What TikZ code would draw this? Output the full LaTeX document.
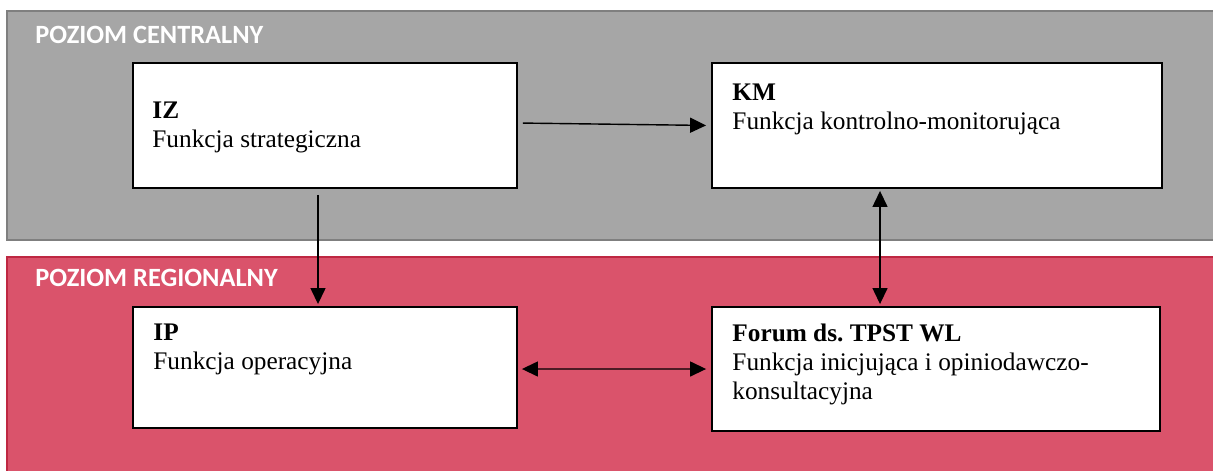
\documentclass[tikz,border=0pt]{standalone}
\usepackage{fontspec}
\setmainfont{Liberation Serif}
\newfontfamily\naglowek{Carlito}
\usetikzlibrary{arrows.meta}
\frenchspacing

\definecolor{szary}{RGB}{166,166,166}
\definecolor{szaryram}{RGB}{127,127,127}
\definecolor{czerwony}{RGB}{218,83,107}
\definecolor{czerwonyram}{RGB}{190,40,66}

\tikzset{ramka/.style = {draw, fill=white, line width=1.1pt, inner sep=0pt},
         opis/.style = {anchor=north west, align=left, inner sep=0pt,
                        font=\fontsize{14.4}{16.5}\selectfont},
         poziom/.style = {anchor=base west, inner sep=0pt, text=white,
                          font=\naglowek\bfseries\fontsize{15}{17}\selectfont},
         strzalka/.style = {line width=0.8pt, -{Triangle[length=0.32cm, width=0.3cm]}},
         strzalka2/.style = {line width=0.8pt, {Triangle[length=0.32cm, width=0.3cm]}-{Triangle[length=0.32cm, width=0.3cm]}}
        }

\begin{document}
\begin{tikzpicture}[x=0.02cm, y=-0.02cm]
\useasboundingbox (0,0) rectangle (1213,471);
% pasy poziomow
\fill[szary] (7,11) rectangle (1213,240);
\draw[szaryram, line width=1.2pt] (1213,11) -- (7,11) -- (7,240) -- (1213,240);
\fill[czerwony] (7,257) rectangle (1213,471);
\draw[czerwonyram, line width=1.2pt] (1213,257) -- (7,257) -- (7,471);
\node[poziom] (centralny) at (35,43) {POZIOM CENTRALNY};
\node[poziom] (regionalny) at (35,286) {POZIOM REGIONALNY};
% ramki
\foreach \n/\x/\y/\w/\h in {iz/325/125.5/7.68/2.5, km/937/125.5/9/2.5, ip/325/367.5/7.68/2.42, forum/936/369/8.96/2.48}
   \node[ramka, minimum width=\w cm, minimum height=\h cm] (\n) at (\x,\y) {};
\node[opis] (tiz) at ([xshift=0.4cm, yshift=-0.8cm]iz.north west) {\textbf{IZ}\\Funkcja strategiczna};
\node[opis] (tkm) at ([xshift=0.42cm, yshift=-0.44cm]km.north west) {\textbf{KM}\\Funkcja kontrolno-monitorująca};
\node[opis] (tip) at ([xshift=0.42cm, yshift=-0.36cm]ip.north west) {\textbf{IP}\\Funkcja operacyjna};
\node[opis] (tforum) at ([xshift=0.42cm, yshift=-0.36cm]forum.north west) {\textbf{Forum ds. TPST WL}\\Funkcja inicjująca i opiniodawczo-\\konsultacyjna};
% polaczenia
\draw[strzalka, shorten <=0.1cm, shorten >=0.1cm] ([yshift=0.05cm]iz.east) -- (km.west);
\draw[strzalka, shorten <=0.12cm, shorten >=0.04cm] ([xshift=-0.14cm]iz.south) -- ([xshift=-0.14cm]ip.north);
\draw[strzalka2, shorten <=0.04cm, shorten >=0.04cm] ([xshift=-1.14cm]km.south) -- ([xshift=-1.12cm]forum.north);
\draw[strzalka2, shorten <=0.08cm, shorten >=0.1cm] ([yshift=-0.03cm]ip.east) -- (forum.west);
\end{tikzpicture}
\end{document}
